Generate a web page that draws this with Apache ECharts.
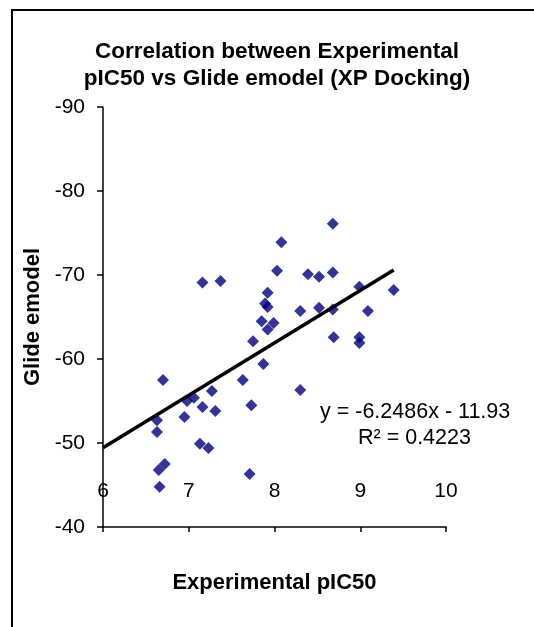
<!DOCTYPE html>
<html>
<head>
<meta charset="utf-8">
<script src="https://cdn.jsdelivr.net/npm/echarts@6/dist/echarts.min.js"></script>
<style>
html,body{margin:0;padding:0;background:#fff;}
#c{width:534px;height:627px;}
</style>
</head>
<body>
<div id="c"></div>
<script>
var pIC50 = [8.68,8.08,7.16,7.37,8.03,8.39,8.52,8.68,7.92,7.89,7.92,8.30,8.52,8.68,7.85,7.99,7.92,7.75,8.69,8.99,9.39,9.09,8.99,8.99,7.87,6.70,7.63,8.30,7.27,6.98,7.06,7.16,7.31,7.73,6.95,6.63,6.63,7.13,7.23,6.72,6.65,7.71,6.66];
var emodel = [-76.1,-73.9,-69.1,-69.3,-70.5,-70.1,-69.8,-70.3,-67.9,-66.6,-66.2,-65.7,-66.1,-65.9,-64.5,-64.3,-63.5,-62.1,-62.6,-68.6,-68.2,-65.7,-62.6,-61.9,-59.4,-57.5,-57.5,-56.3,-56.2,-55.0,-55.4,-54.3,-53.8,-54.5,-53.1,-52.7,-51.3,-49.9,-49.4,-47.5,-46.8,-46.3,-44.8];
var slope = -6.2486, intercept = -11.93, r2 = 0.4223;
var xTicks = [6,7,8,9,10];
var yTicks = [-90,-80,-70,-60,-50,-40];

var FONT = 'Arial, "Liberation Sans", sans-serif';
var pts = pIC50.map(function(x,i){return [x, emodel[i]];});
var xmin = 6, xmax = Math.max.apply(null, pIC50);
var trend = [[xmin, slope*xmin+intercept],[xmax, slope*xmax+intercept]];

var chart = echarts.init(document.getElementById('c'));
chart.setOption({
  animation:false,
  backgroundColor:'#fff',
  title:{
    text:'Correlation between Experimental\npIC50 vs Glide emodel (XP Docking)',
    left:272, top:33, textAlign:'center',
    textStyle:{fontFamily:FONT,fontSize:22.5,fontWeight:'bold',color:'#000',lineHeight:27}
  },
  grid:{left:103,right:88,top:107,bottom:100},
  xAxis:{
    type:'value', min:xTicks[0], max:xTicks[xTicks.length-1], interval:1,
    name:'Experimental pIC50', nameLocation:'middle', nameGap:45,
    nameTextStyle:{fontFamily:FONT,fontSize:22,fontWeight:'bold',color:'#000'},
    axisLine:{onZero:false,lineStyle:{color:'#000',width:1.5}},
    axisTick:{show:true,length:5,lineStyle:{color:'#000',width:1.5}},
    axisLabel:{margin:-36,verticalAlign:'middle',fontFamily:FONT,fontSize:21,color:'#000'},
    splitLine:{show:false}
  },
  yAxis:{
    type:'value', inverse:true, min:yTicks[0], max:yTicks[yTicks.length-1], interval:10,
    name:'Glide emodel', nameLocation:'middle', nameGap:59,
    nameTextStyle:{fontFamily:FONT,fontSize:22,fontWeight:'bold',color:'#000'},
    axisLine:{show:true,onZero:false,lineStyle:{color:'#000',width:1.5}},
    axisTick:{show:true,length:6,lineStyle:{color:'#000',width:1.5}},
    axisLabel:{margin:18,fontFamily:FONT,fontSize:21,color:'#000'},
    splitLine:{show:false}
  },
  series:[
    {type:'scatter',data:pts,symbol:'diamond',symbolSize:12,itemStyle:{color:'#000080'},z:2},
    {type:'line',data:trend,symbol:'none',lineStyle:{color:'#000',width:3.5},z:3}
  ],
  graphic:[
    {type:'rect',shape:{x:12,y:10,width:600,height:700},style:{fill:'none',stroke:'#000',lineWidth:2},silent:true},
    {type:'text',x:320,y:401,style:{text:'y = '+slope+'x - '+Math.abs(intercept),fontFamily:FONT,fontSize:21.5,fill:'#000'}},
    {type:'text',x:358,y:427,style:{text:'R\u00B2 = '+r2,fontFamily:FONT,fontSize:21.5,fill:'#000'}}
  ]
});
</script>
</body>
</html>
